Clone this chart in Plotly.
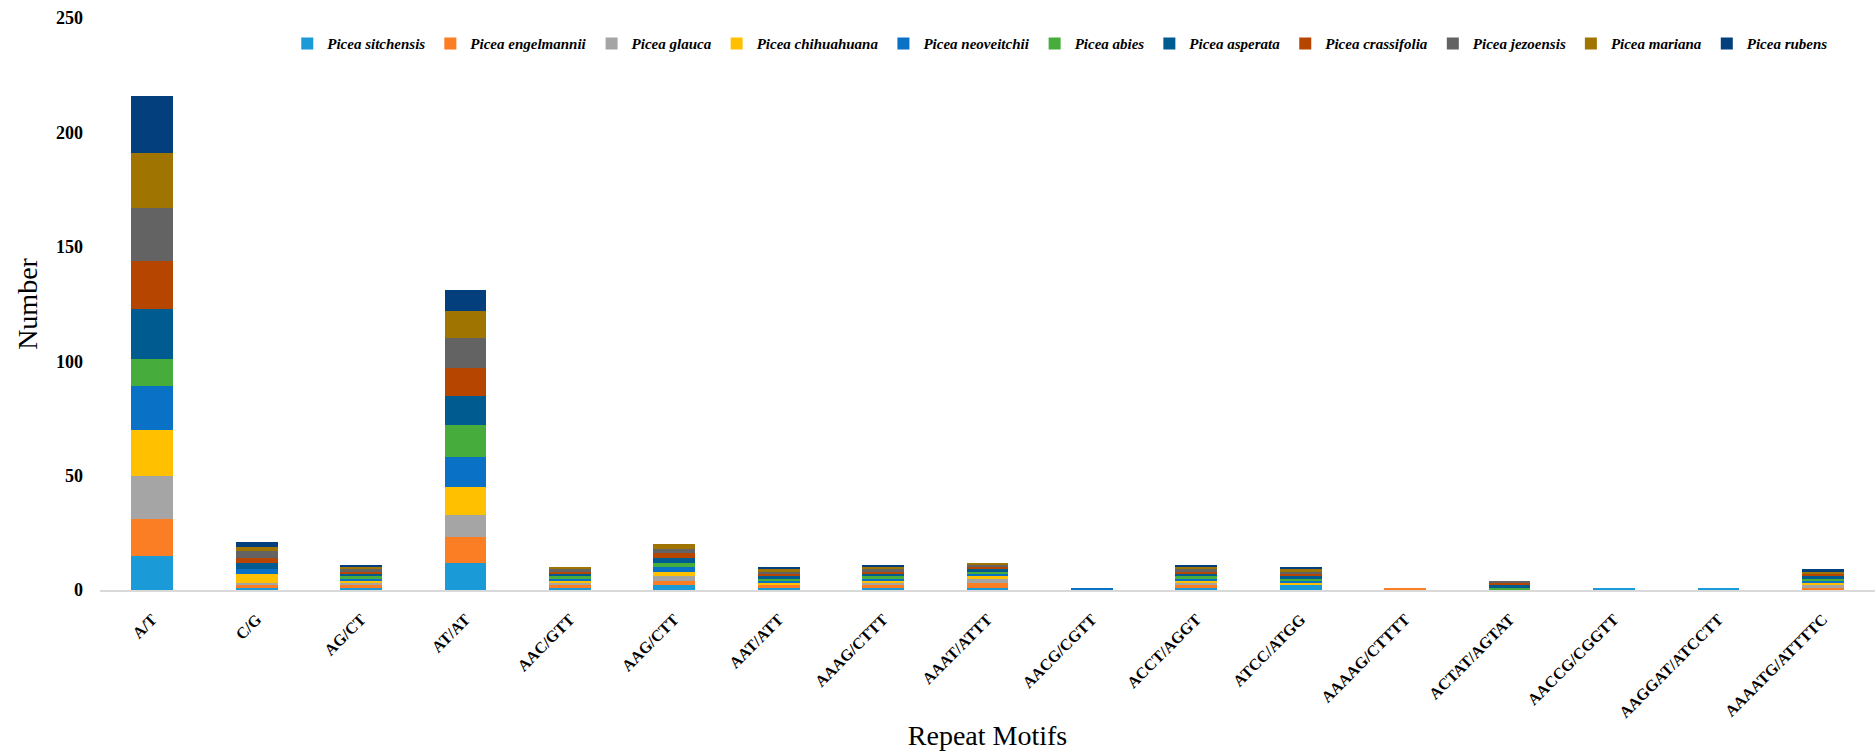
import plotly.graph_objects as go

# Repeat motif categories on the x axis
motifs = ["A/T", "C/G", "AG/CT", "AT/AT", "AAC/GTT", "AAG/CTT", "AAT/ATT",
          "AAAG/CTTT", "AAAT/ATTT", "AACG/CGTT", "ACCT/AGGT", "ATCC/ATGG",
          "AAAAG/CTTTT", "ACTAT/AGTAT", "AACCG/CGGTT", "AAGGAT/ATCCTT",
          "AAAATG/ATTTTC"]

# Counts of each motif per species
sitchensis   = [15, 1, 1, 12, 1, 2, 1, 1, 1, 0, 1, 2, 0, 0, 1, 1, 0]
engelmannii  = [16, 1, 1, 11, 1, 2, 1, 1, 2, 0, 1, 0, 1, 0, 0, 0, 1]
glauca       = [19, 1, 1, 10, 1, 2, 0, 1, 2, 0, 1, 0, 0, 0, 0, 0, 1]
chihuahuana  = [20, 4, 1, 12, 1, 2, 1, 1, 1, 0, 1, 1, 0, 0, 0, 0, 1]
neoveitchii  = [19, 2, 1, 13, 1, 2, 1, 1, 1, 1, 1, 1, 0, 0, 0, 0, 1]
abies        = [12, 0, 1, 14, 1, 2, 1, 1, 1, 0, 1, 1, 0, 1, 0, 0, 1]
asperata     = [22, 3, 1, 13, 1, 2, 1, 1, 1, 0, 1, 1, 0, 1, 0, 0, 1]
crassifolia  = [21, 2, 1, 12, 1, 2, 1, 1, 1, 0, 1, 1, 0, 1, 0, 0, 1]
jezoensis    = [23, 3, 1, 13, 1, 2, 1, 1, 1, 0, 1, 1, 0, 1, 0, 0, 0]
mariana      = [24, 2, 1, 12, 1, 2, 1, 1, 1, 0, 1, 1, 0, 0, 0, 0, 1]
rubens       = [25, 2, 1, 9, 0, 0, 1, 1, 0, 0, 1, 1, 0, 0, 0, 0, 1]

species = [
    ("Picea sitchensis", sitchensis, "#1A9AD6"),
    ("Picea engelmannii", engelmannii, "#FB7D24"),
    ("Picea glauca", glauca, "#A5A5A5"),
    ("Picea chihuahuana", chihuahuana, "#FFC000"),
    ("Picea neoveitchii", neoveitchii, "#0A72C6"),
    ("Picea abies", abies, "#46AD3C"),
    ("Picea asperata", asperata, "#005B91"),
    ("Picea crassifolia", crassifolia, "#B64500"),
    ("Picea jezoensis", jezoensis, "#636363"),
    ("Picea mariana", mariana, "#A07400"),
    ("Picea rubens", rubens, "#023F7C"),
]

SERIF = "Liberation Serif, Times New Roman, serif"

fig = go.Figure()
for name, vals, color in species:
    fig.add_trace(go.Bar(
        x=motifs, y=vals, name=name,
        marker=dict(color=color, line=dict(width=0)),
    ))

fig.update_layout(
    barmode="stack",
    bargap=0.6,
    width=1876, height=751,
    margin=dict(l=100, r=1, t=18, b=161),
    paper_bgcolor="white",
    plot_bgcolor="white",
    font=dict(family=SERIF, color="black"),
    legend=dict(
        orientation="h",
        x=0.541, xanchor="center",
        y=0.955, yanchor="middle",
        font=dict(family=SERIF, size=15, color="black", weight="bold",
                  style="italic"),
        itemwidth=30,
        tracegroupgap=0,
        bgcolor="rgba(0,0,0,0)",
        traceorder="normal",
    ),
    xaxis=dict(
        type="category",
        tickangle=-45,
        tickfont=dict(family=SERIF, size=16, color="black", weight="bold"),
        showline=True, linecolor="#D9D9D9", linewidth=1.5,
        showgrid=False, ticks="", ticklabelstandoff=12,
        title=dict(text="Repeat Motifs", font=dict(family=SERIF, size=28),
                   standoff=9),
    ),
    yaxis=dict(
        range=[0, 250],
        tickvals=[0, 50, 100, 150, 200, 250],
        tickfont=dict(family=SERIF, size=18, color="black", weight="bold"),
        showline=False, showgrid=False, zeroline=False,
        ticks="", ticklabelstandoff=16,
        title=dict(text="Number", font=dict(family=SERIF, size=28),
                   standoff=10),
    ),
)

fig.write_html("out.html")
